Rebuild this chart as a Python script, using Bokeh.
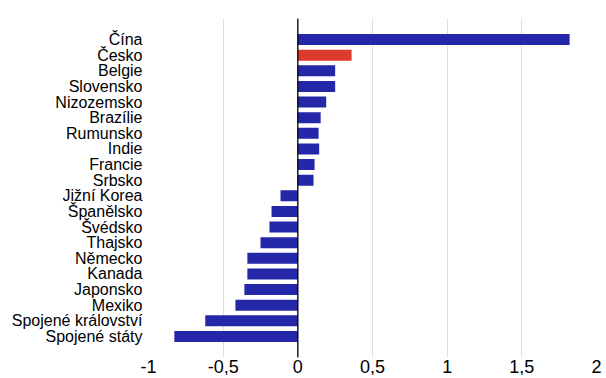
from bokeh.plotting import figure
from bokeh.models import ColumnDataSource, FactorRange, Range1d, Span, FixedTicker, CustomJSTickFormatter
from bokeh.embed import file_html
from bokeh.resources import INLINE

countries = ["Čína", "Česko", "Belgie", "Slovensko", "Nizozemsko", "Brazílie",
             "Rumunsko", "Indie", "Francie", "Srbsko", "Jižní Korea", "Španělsko",
             "Švédsko", "Thajsko", "Německo", "Kanada", "Japonsko", "Mexiko",
             "Spojené království", "Spojené státy"]
values = [1.82, 0.36, 0.25, 0.25, 0.19, 0.153, 0.139, 0.143, 0.112, 0.105,
          -0.116, -0.176, -0.19, -0.25, -0.338, -0.338, -0.358, -0.418, -0.62, -0.827]
highlight = "Česko"
x_ticks = [-1, -0.5, 0, 0.5, 1, 1.5, 2]

colors = ["#dc3b2c" if c == highlight else "#2327a8" for c in countries]
src = ColumnDataSource(dict(country=countries, value=values, color=colors))

p = figure(width=606, height=378, output_backend="svg", toolbar_location=None,
           y_range=FactorRange(factors=list(reversed(countries)), range_padding=0.085),
           x_range=Range1d(-1, 2),
           frame_width=448, frame_height=339,
           min_border_left=148, min_border_right=10, min_border_top=18, min_border_bottom=0)

p.hbar(y="country", right="value", left=0, height=0.7, color="color", source=src, line_color=None)

p.add_layout(Span(location=0, dimension="height", line_color="black", line_width=1.3))

p.outline_line_color = None
p.ygrid.grid_line_color = None
p.xgrid.grid_line_color = "#dddddd"
p.xgrid.grid_line_width = 1

p.xaxis.ticker = FixedTicker(ticks=x_ticks)
p.xaxis.formatter = CustomJSTickFormatter(code="return tick.toString().replace('.', ',');")
for ax in (p.xaxis, p.yaxis):
    ax.axis_line_color = None
    ax.major_tick_line_color = None
    ax.minor_tick_line_color = None
    ax.major_tick_out = 0
    ax.major_tick_in = 0
    ax.major_label_text_font = "Liberation Sans"
    ax.major_label_text_color = "#000000"
p.xaxis.major_label_text_font_size = "18px"
p.xaxis.major_label_standoff = 2
p.yaxis.major_label_text_font_size = "16px"
p.yaxis.major_label_standoff = 6

open("out.html", "w").write(file_html(p, INLINE))
